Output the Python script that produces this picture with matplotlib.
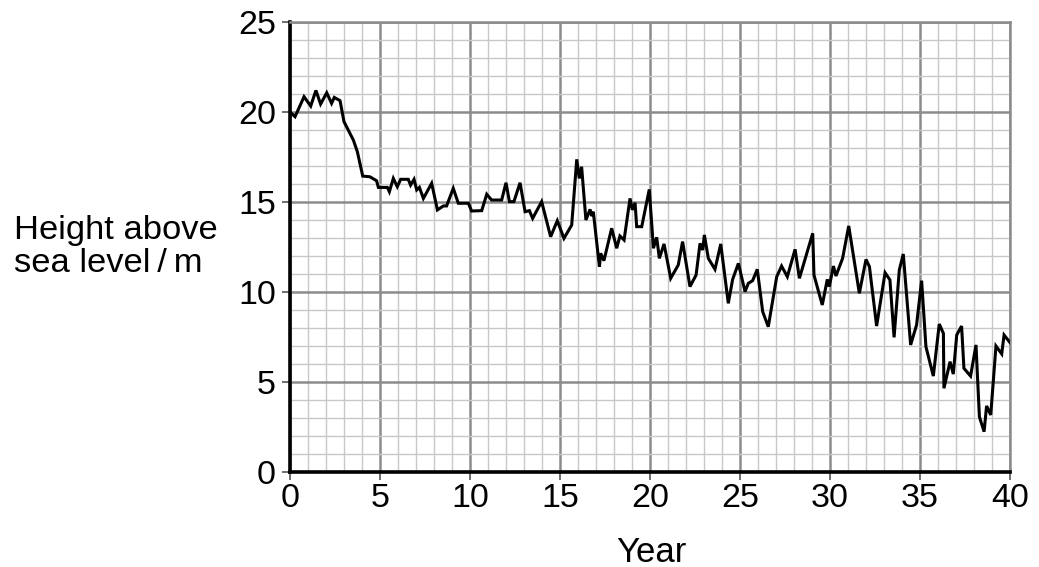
import matplotlib
matplotlib.use("Agg")
import matplotlib.pyplot as plt
from matplotlib.ticker import MultipleLocator

plt.rcParams['font.family'] = ['Liberation Sans', 'DejaVu Sans']

years = [0.0, 0.28, 0.78, 1.15, 1.44, 1.7, 2.04, 2.31, 2.46, 2.78, 3.0, 3.52, 3.74, 4.04,
         4.44, 4.81, 4.91, 5.41, 5.52, 5.74, 5.96, 6.15, 6.57, 6.7, 6.89, 7.04, 7.19, 7.41,
         7.87, 8.19, 8.52, 8.7, 9.07, 9.35, 9.91, 10.09, 10.65, 10.93, 11.2, 11.76, 12.0,
         12.19, 12.44, 12.78, 13.06, 13.3, 13.48, 13.98, 14.48, 14.85, 15.22, 15.65, 15.93,
         16.07, 16.2, 16.44, 16.67, 16.76, 16.85, 17.19, 17.26, 17.44, 17.87, 18.15, 18.33,
         18.56, 18.89, 19.02, 19.17, 19.26, 19.54, 19.96, 20.19, 20.37, 20.52, 20.78, 21.15,
         21.57, 21.81, 22.22, 22.56, 22.78, 22.93, 23.02, 23.24, 23.61, 23.93, 24.35, 24.59,
         24.91, 25.28, 25.46, 25.7, 25.96, 26.26, 26.57, 27.04, 27.31, 27.63, 28.06, 28.3,
         29.04, 29.11, 29.57, 29.85, 29.96, 30.19, 30.33, 30.7, 31.04, 31.63, 32.0, 32.19,
         32.59, 33.06, 33.33, 33.56, 33.85, 34.07, 34.48, 34.81, 35.09, 35.33, 35.74, 36.07,
         36.3, 36.33, 36.67, 36.85, 37.04, 37.31, 37.44, 37.81, 38.11, 38.3, 38.56, 38.7,
         38.93, 39.22, 39.54, 39.67, 40.0]
heights = [20.0, 19.74, 20.85, 20.33, 21.2, 20.44, 21.07, 20.48, 20.81, 20.63, 19.46, 18.44,
           17.8, 16.44, 16.4, 16.18, 15.81, 15.81, 15.57, 16.31, 15.85, 16.26, 16.26, 15.94,
           16.26, 15.67, 15.81, 15.2, 16.04, 14.56, 14.78, 14.78, 15.76, 14.93, 14.93, 14.5,
           14.52, 15.43, 15.11, 15.11, 16.07, 15.02, 15.02, 16.07, 14.46, 14.52, 14.09, 15.02,
           13.07, 13.96, 12.98, 13.72, 17.37, 16.31, 16.96, 14.0, 14.59, 14.22, 14.46, 11.41,
           12.15, 11.74, 13.54, 12.43, 13.11, 12.89, 15.2, 14.56, 14.96, 13.63, 13.63, 15.7,
           12.43, 13.04, 11.87, 12.67, 10.76, 11.5, 12.8, 10.3, 10.94, 12.7, 12.33, 13.17,
           11.87, 11.26, 12.67, 9.37, 10.7, 11.59, 10.02, 10.48, 10.63, 11.26, 8.91, 8.07,
           10.85, 11.44, 10.85, 12.37, 10.76, 13.26, 10.94, 9.28, 10.7, 10.3, 11.44, 10.89,
           11.87, 13.67, 9.93, 11.81, 11.41, 8.11, 11.07, 10.67, 7.48, 11.22, 12.11, 7.06,
           8.17, 10.63, 6.96, 5.33, 8.22, 7.7, 4.65, 6.13, 5.44, 7.61, 8.11, 5.76, 5.33, 7.06,
           3.07, 2.24, 3.67, 3.17, 7.0, 6.56, 7.61, 7.19]

x_ticks = [0, 5, 10, 15, 20, 25, 30, 35, 40]
y_ticks = [0, 5, 10, 15, 20, 25]

W, H = 1039, 567
fig = plt.figure(figsize=(W / 100, H / 100), dpi=100)
ax = fig.add_axes([290 / W, 1 - 472 / H, 720 / W, 450 / H])

ax.set_xlim(0, 40)
ax.set_ylim(0, 25)
ax.set_xticks(x_ticks)
ax.set_yticks(y_ticks)
ax.xaxis.set_minor_locator(MultipleLocator(1))
ax.yaxis.set_minor_locator(MultipleLocator(1))
ax.grid(which='minor', color='#c8c8c8', linewidth=1.0)
ax.grid(which='major', color='#8c8c8c', linewidth=1.8)
ax.set_axisbelow(True)
ax.tick_params(which='minor', length=0)
ax.tick_params(which='major', length=6, width=1.2, color='#555555',
               labelsize=24.5, direction='out')
ax.tick_params(axis='x', pad=2)
ax.tick_params(axis='y', pad=4)

for s in ['top', 'right']:
    ax.spines[s].set_color('#8c8c8c')
    ax.spines[s].set_linewidth(1.8)
for s in ['left', 'bottom']:
    ax.spines[s].set_color('black')
    ax.spines[s].set_linewidth(2.6)

ax.plot(years, heights, color='black', linewidth=2.2, solid_joinstyle='miter', zorder=3)

fig.text(651 / W, 1 - 562 / H, 'Year', fontsize=25, ha='center', va='baseline')
fig.text(14 / W, 1 - 272 / H, 'Height above\nsea level\u2009/\u2009m', fontsize=24.8,
         ha='left', va='baseline', linespacing=1.07)

fig.savefig('out.png', dpi=100, facecolor='white')
